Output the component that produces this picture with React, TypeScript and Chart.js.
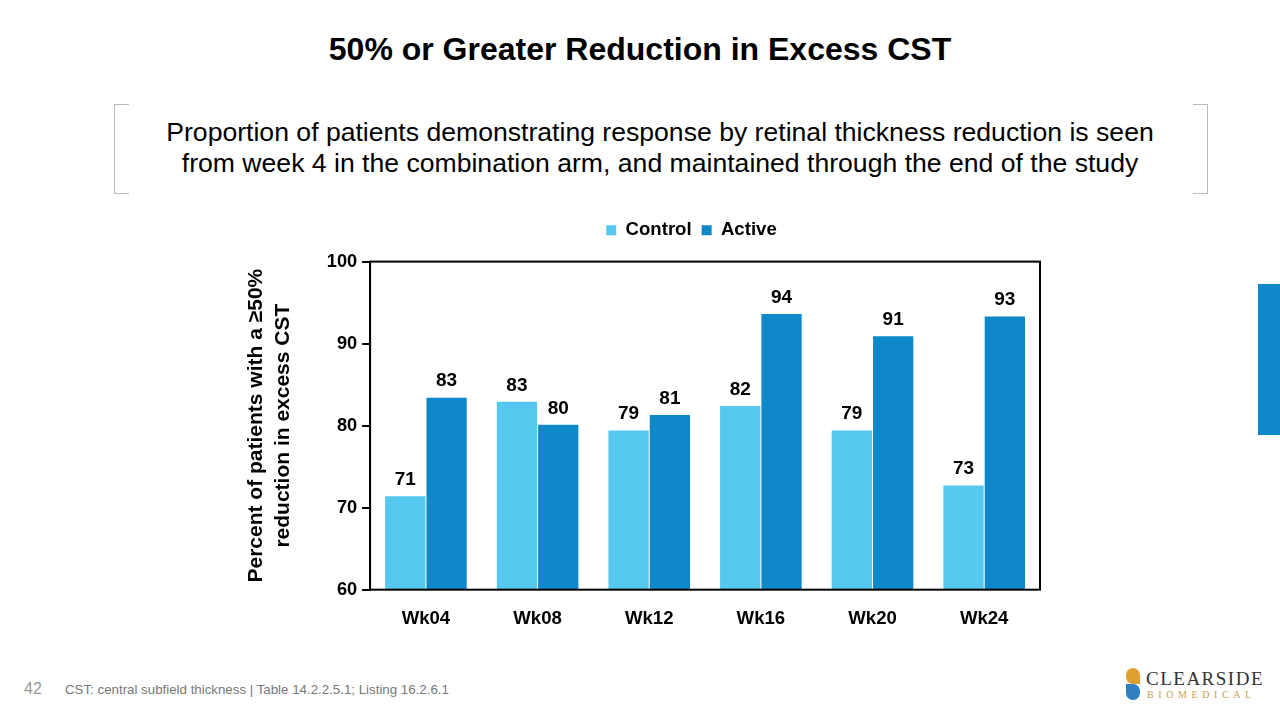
import React, { useEffect, useRef } from "react";
import { Chart, registerables } from "chart.js";

Chart.register(...registerables);

const categories = ["Wk04", "Wk08", "Wk12", "Wk16", "Wk20", "Wk24"];
const controlValues = [71.4, 82.9, 79.4, 82.4, 79.4, 72.7];
const activeValues = [83.4, 80.1, 81.3, 93.6, 90.9, 93.3];
const controlLabels = ["71", "83", "79", "82", "79", "73"];
const activeLabels = ["83", "80", "81", "94", "91", "93"];
const yTicks = [60, 70, 80, 90, 100];

const FONT = "'Liberation Sans', Arial, sans-serif";
const LIGHT = "#56C8F0";
const DARK = "#0E88C8";

const valueLabelPlugin = {
  id: "valueLabels",
  afterDatasetsDraw(chart: any) {
    const ctx = chart.ctx;
    const labelSets = [controlLabels, activeLabels];
    ctx.save();
    ctx.font = `bold 19px ${FONT}`;
    ctx.fillStyle = "#000";
    ctx.textAlign = "center";
    ctx.textBaseline = "bottom";
    chart.data.datasets.forEach((_: any, di: number) => {
      const meta = chart.getDatasetMeta(di);
      meta.data.forEach((bar: any, i: number) => {
        ctx.fillText(labelSets[di][i], bar.x, bar.y - 7);
      });
    });
    ctx.restore();
  },
};

const framePlugin = {
  id: "frame",
  afterDraw(chart: any) {
    const { ctx, chartArea } = chart;
    ctx.save();
    ctx.strokeStyle = "#000";
    ctx.lineWidth = 2;
    ctx.strokeRect(chartArea.left, chartArea.top, chartArea.right - chartArea.left, chartArea.bottom - chartArea.top);
    ctx.restore();
  },
};

const legendTweakPlugin = {
  id: "legendTweak",
  afterInit(chart: any) {
    const lg = chart.legend;
    if (lg) {
      const orig = lg.fit.bind(lg);
      lg.fit = function () {
        orig();
        this.height += 12;
      };
    }
  },
  afterLayout(chart: any) {
    const lg = chart.legend;
    if (lg) {
      lg.left += 50;
      lg.right += 50;
    }
  },
};

function BarChart() {
  const ref = useRef<HTMLCanvasElement>(null);
  useEffect(() => {
    const chart = new Chart(ref.current!, {
      type: "bar",
      data: {
        labels: categories,
        datasets: [
          { label: "Control", data: controlValues, backgroundColor: LIGHT, borderWidth: 0, barPercentage: 0.975, categoryPercentage: 0.74 },
          { label: "Active", data: activeValues, backgroundColor: DARK, borderWidth: 0, barPercentage: 0.975, categoryPercentage: 0.74 },
        ],
      },
      options: {
        responsive: false,
        animation: false,
        devicePixelRatio: 1,
        layout: { padding: { left: 0, right: 100, top: 0, bottom: 0 } },
        plugins: {
          tooltip: { enabled: false },
          legend: {
            position: "top",
            labels: {
              boxWidth: 10,
              boxHeight: 10,
              padding: 10,
              color: "#000",
              font: { family: FONT, size: 18.6, weight: "bold" },
            },
          },
        },
        scales: {
          x: {
            grid: { display: false },
            border: { display: false },
            ticks: { color: "#000", padding: 10, font: { family: FONT, size: 18.6, weight: "bold" } },
          },
          y: {
            min: 60,
            max: 100,
            afterBuildTicks(axis: any) {
              axis.ticks = yTicks.map((v) => ({ value: v }));
            },
            grid: { display: true, drawOnChartArea: false, tickLength: 8, color: "#000", lineWidth: 2 },
            border: { display: true, color: "#000", width: 2 },
            ticks: { color: "#000", padding: 5, font: { family: FONT, size: 18.2, weight: "bold" } },
            title: {
              display: true,
              text: ["Percent of patients with a \u226550%", "reduction in excess CST"],
              color: "#000",
              font: { family: FONT, size: 21, weight: "bold", lineHeight: 1.28 },
              padding: { top: 0, bottom: 25 },
            },
          },
        },
      },
      plugins: [valueLabelPlugin, framePlugin, legendTweakPlugin],
    } as any);
    return () => chart.destroy();
  }, []);
  return <canvas ref={ref} width={897} height={429} style={{ position: "absolute", left: 243, top: 211 }} />;
}

export default function App() {
  return (
    <div style={{ position: "fixed", left: 0, top: 0, width: 1280, height: 720, background: "#fff", overflow: "hidden", fontFamily: FONT }}>
      <div style={{ position: "absolute", left: 0, width: 1280, top: 31, textAlign: "center", fontSize: 32, lineHeight: "37px", fontWeight: "bold", color: "#000" }}>
        50% or Greater Reduction in Excess CST
      </div>
      <div style={{ position: "absolute", left: 114, top: 104, width: 14, height: 88, borderLeft: "1px solid #bbb", borderTop: "1px solid #bbb", borderBottom: "1px solid #bbb" }} />
      <div style={{ position: "absolute", left: 1193, top: 104, width: 14, height: 88, borderRight: "1px solid #bbb", borderTop: "1px solid #bbb", borderBottom: "1px solid #bbb" }} />
      <div style={{ position: "absolute", left: 120, width: 1080, top: 117, textAlign: "center", fontSize: 26.6, lineHeight: "31px", color: "#000", whiteSpace: "nowrap" }}>
        Proportion of patients demonstrating response by retinal thickness reduction is seen
        <br />
        from week 4 in the combination arm, and maintained through the end of the study
      </div>
      <div style={{ position: "absolute", left: 1258, top: 284, width: 22, height: 151, background: DARK }} />
      <BarChart />
      <div style={{ position: "absolute", left: 24, top: 680, fontSize: 16, color: "#999" }}>42</div>
      <div style={{ position: "absolute", left: 65, top: 682, fontSize: 13.3, color: "#777" }}>
        CST: central subfield thickness | Table 14.2.2.5.1; Listing 16.2.6.1
      </div>
      <div style={{ position: "absolute", left: 1126, top: 668, width: 14, height: 16, background: "#E0A030", borderRadius: "8px 8px 0 8px" }} />
      <div style={{ position: "absolute", left: 1126, top: 684, width: 14, height: 16, background: "#2E7FC0", borderRadius: "0 8px 8px 8px" }} />
      <div style={{ position: "absolute", left: 1146, top: 668, fontSize: 19, fontFamily: "'Liberation Serif', serif", color: "#333", letterSpacing: 1.5 }}>CLEARSIDE</div>
      <div style={{ position: "absolute", left: 1147, top: 689, fontSize: 10, fontFamily: "'Liberation Serif', serif", color: "#C8A050", letterSpacing: 4.6 }}>BIOMEDICAL</div>
    </div>
  );
}
